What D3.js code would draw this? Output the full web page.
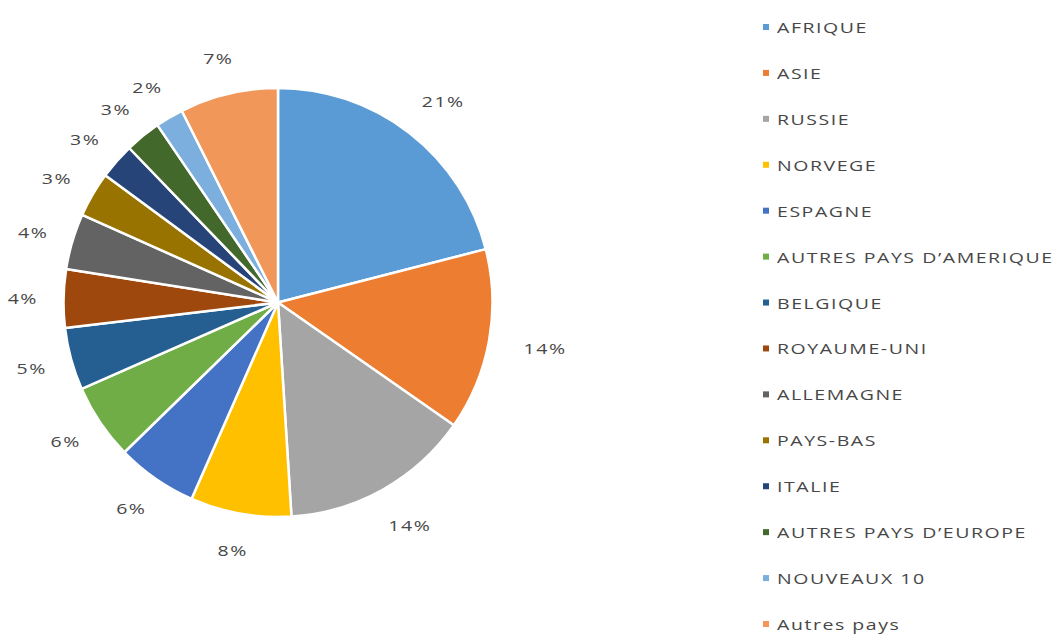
<!DOCTYPE html>
<html>
<head>
<meta charset="utf-8">
<script src="https://cdn.jsdelivr.net/npm/d3@7"></script>
<style>
  html, body { margin: 0; padding: 0; background: #fff; }
  svg text { font-family: "Open Sans", "Liberation Sans", sans-serif; fill: #474747; }
</style>
</head>
<body>
<svg id="chart" width="1056" height="637"></svg>
<script>
// Origin breakdown, share of total (percent; labels show the rounded share)
const categories = [
  "AFRIQUE", "ASIE", "RUSSIE", "NORVEGE", "ESPAGNE",
  "AUTRES PAYS D\u2019AMERIQUE", "BELGIQUE", "ROYAUME-UNI", "ALLEMAGNE",
  "PAYS-BAS", "ITALIE", "AUTRES PAYS D\u2019EUROPE", "NOUVEAUX 10", "Autres pays"
];
const values = [21.0, 13.7, 14.3, 7.6, 6.1, 5.7, 4.7, 4.4, 4.2, 3.4, 2.7, 2.7, 2.1, 7.4];
const colors = [
  "#5b9bd5", "#ed7d31", "#a5a5a5", "#ffc000", "#4472c4", "#70ad47",
  "#255e91", "#9e480e", "#636363", "#997300", "#264478", "#43682b",
  "#7cafdd", "#f1975a"
];

const svg = d3.select("#chart");
const cx = 278, cy = 302.5, radius = 214.5;
const textScaleX = 1.3;
const fontSize = 15, letterSpacing = 1.2;

const total = d3.sum(values);
const data = categories.map((c, i) => ({ name: c, value: values[i], color: colors[i] }));
const pctText = v => Math.round(v / total * 100) + "%";

const pie = d3.pie().value(d => d.value).sort(null);
const arc = d3.arc().innerRadius(0).outerRadius(radius);
const arcs = pie(data);

const g = svg.append("g").attr("transform", `translate(${cx},${cy})`);

g.selectAll("path.slice")
  .data(arcs)
  .join("path")
  .attr("class", "slice")
  .attr("d", arc)
  .attr("fill", d => d.data.color)
  .attr("stroke", "#fff")
  .attr("stroke-width", 2.5)
  .attr("stroke-linejoin", "round");

// Percentage labels just outside each slice: the label box sits beyond an
// anchor on the mid-angle, pushed out by half its own width/height.
const labels = g.selectAll("g.pct")
  .data(arcs)
  .join("g")
  .attr("class", "pct");

labels.append("text")
  .attr("text-anchor", "middle")
  .attr("dominant-baseline", "central")
  .attr("font-size", fontSize)
  .attr("letter-spacing", letterSpacing)
  .attr("transform", `scale(${textScaleX},1)`)
  .text(d => pctText(d.data.value));

labels.attr("transform", function (d) {
  const a = (d.startAngle + d.endAngle) / 2;
  const w = this.querySelector("text").getComputedTextLength() * textScaleX;
  const h = fontSize;
  const r0 = 245 + 5 * Math.sin(a);
  const x = r0 * Math.sin(a) + (w / 2) * Math.sin(a);
  const y = -r0 * Math.cos(a) - (h / 2) * Math.cos(a);
  return `translate(${x},${y})`;
});

// Legend
const legendY = d3.scalePoint().domain(categories).range([27, 624]);
const legend = svg.append("g").attr("class", "legend");
const item = legend.selectAll("g")
  .data(data)
  .join("g")
  .attr("transform", d => `translate(763,${legendY(d.name)})`);

item.append("rect")
  .attr("x", 0).attr("y", -3)
  .attr("width", 6).attr("height", 6)
  .attr("fill", d => d.color);

item.append("text")
  .attr("transform", `translate(14,0) scale(${textScaleX},1)`)
  .attr("dominant-baseline", "central")
  .attr("font-size", fontSize)
  .attr("letter-spacing", letterSpacing)
  .text(d => d.name);
</script>
</body>
</html>
